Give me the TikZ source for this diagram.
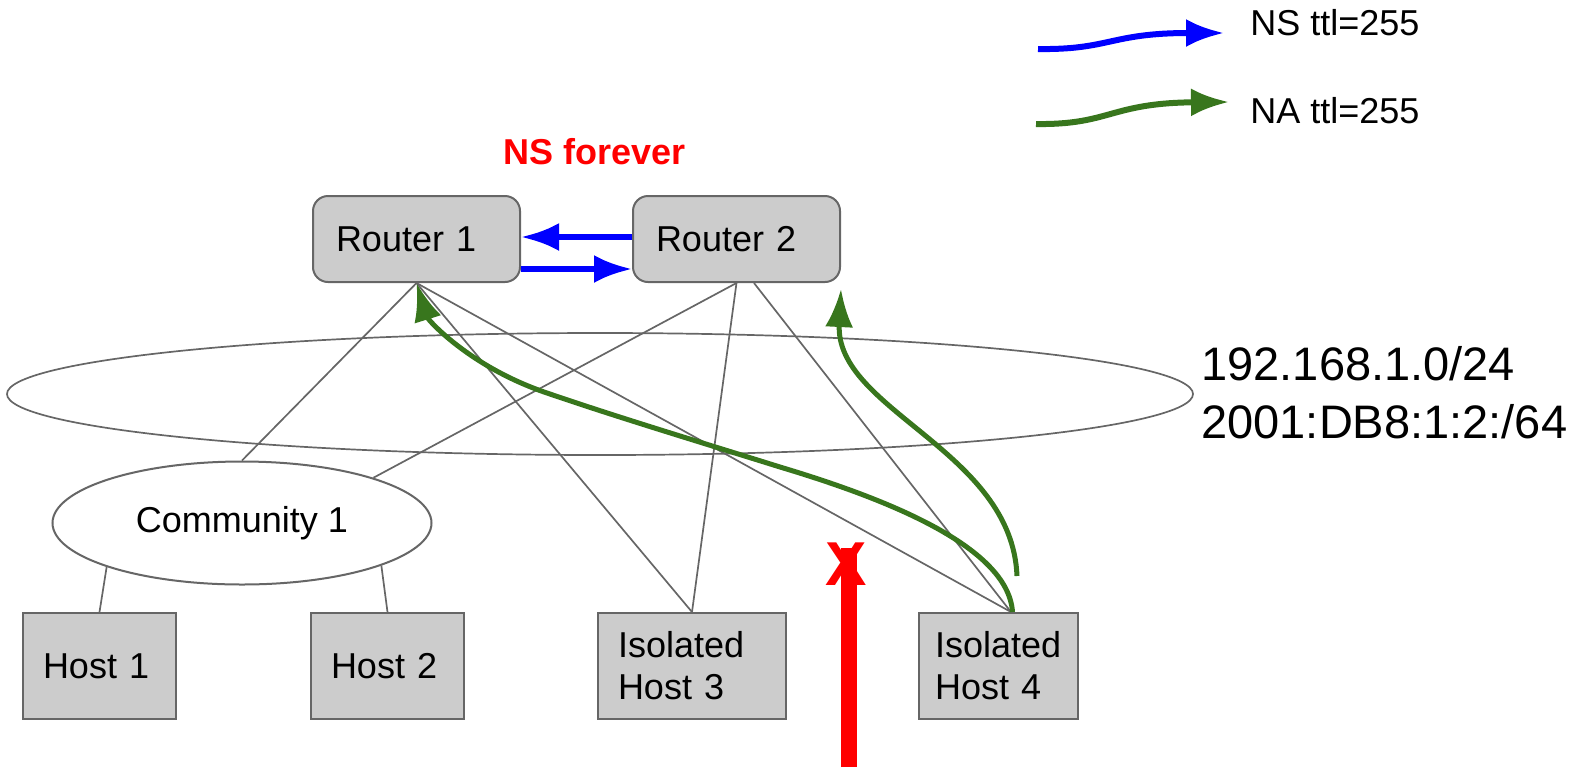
\documentclass[tikz,border=0pt]{standalone}
\usepackage{fontspec}
\setmainfont{Liberation Sans}
\usetikzlibrary{arrows.meta,shapes.geometric}
\definecolor{boxgray}{HTML}{CCCCCC}
\definecolor{edgegray}{HTML}{666666}
\definecolor{nagreen}{HTML}{38761D}

\begin{document}
\begin{tikzpicture}[x=0.5pt,y=-0.5pt,
  font=\fontsize{18}{21}\selectfont,
  router/.style={draw=edgegray,line width=1pt,fill=boxgray,rounded corners=7.5pt,anchor=north west,
    minimum height=43pt,text width=80.5pt,inner xsep=11.5pt,align=left},
  host/.style={draw=edgegray,line width=1pt,fill=boxgray,anchor=north west,
    minimum height=53pt,inner xsep=10pt,align=left},
  link/.style={edgegray,line width=0.85pt},
  ns/.style={blue,line width=3pt,-{Latex[length=19pt,width=14pt]}},
  na/.style={nagreen,line width=2.5pt,-{Latex[length=19pt,width=14pt]}}]
  \useasboundingbox (0,0) rectangle (1591,767);
  % subnet
  \draw [link] (600,394) ellipse [x radius=593, y radius=61];
  \node [anchor=west,align=left,inner sep=0,font=\fontsize{23.5}{29}\selectfont] (subnet) at (1201,393) {192.168.1.0/24\\2001:DB8:1:2:/64};
  % routers and hosts
  \node [router] (r1) at (312,195) {Router 1};
  \node [router] (r2) at (632,195) {Router 2};
  \node [ellipse,draw=edgegray,line width=1pt,fill=white,minimum width=189.5pt,minimum height=61.5pt] (comm) at (242,523) {Community 1};
  \node [host,text width=56.5pt] (h1) at (22,612) {Host 1};
  \node [host,text width=56.5pt] (h2) at (310,612) {Host 2};
  \node [host,text width=74pt] (ih3) at (597,612) {Isolated\\Host 3};
  \node [host,text width=63.5pt,inner xsep=8pt] (ih4) at (918,612) {Isolated\\Host 4};
  \draw [link] (r1.south) -- (comm.north);
  \draw [link] (r1.south) -- (ih3.north);
  \draw [link] (r1.south) -- ([xshift=6.25pt]ih4.north);
  \draw [link] (r2.south) -- (comm.19);
  \draw [link] (r2.south) -- (ih3.north);
  \draw [link] ([xshift=8.75pt]r2.south) -- ([xshift=6.25pt]ih4.north);
  \draw [link] (comm.198) -- (h1.north);
  \draw [link] (comm.-17) -- (h2.north);
  % NS loop
  \node [red,anchor=base,font=\bfseries\fontsize{18}{21}\selectfont] (loop) at (595,164) {NS forever};
  \draw [ns] ([yshift=1pt]r2.west) -- ([yshift=1pt]r1.east);
  \draw [ns] ([yshift=-15pt]r1.east) -- ([yshift=-15pt]r2.west);
  % NA from host 4
  \coordinate (na2start) at (1017,576);
  \draw [na] ([xshift=7pt]ih4.north) .. controls (1008,545) and (880,497) .. (780,467)
    .. controls (700,442) and (620,418) .. (547,393)
    .. controls (470,367) and (428,320) .. (r1.south);
  \draw [na] (na2start) .. controls (1012,450) and (835,410) .. ([yshift=-3pt]r2.south east);
  % blocked
  \coordinate (blkbase) at (849,767);
  \coordinate (blktop) at (849,548);
  \draw [red,line width=8pt] (blkbase) -- (blktop);
  \node [red,inner sep=0,font=\bfseries\fontsize{31}{31}\selectfont] (blkx) at (846,564) {X};
  % legend
  \coordinate (nsfrom) at (1038,49);
  \coordinate (nsto) at (1224,33);
  \coordinate (nafrom) at (1036,124);
  \coordinate (nato) at (1229,102);
  \draw [ns] (nsfrom) .. controls (1110,50) and (1110,33) .. (nsto);
  \draw [na,line width=3pt] (nafrom) .. controls (1110,125) and (1110,103) .. (nato);
  \node [anchor=base west,inner sep=0] (nslbl) at (1250,35) {NS ttl=255};
  \node [anchor=base west,inner sep=0] (nalbl) at (1250,123) {NA ttl=255};
\end{tikzpicture}
\end{document}
